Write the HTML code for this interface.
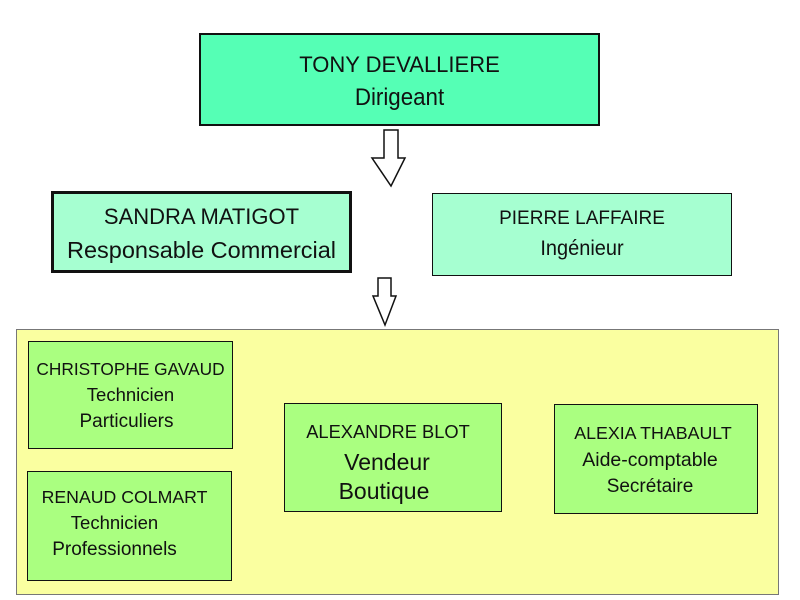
<!DOCTYPE html>
<html><head><meta charset="utf-8"><style>
body{margin:0;width:800px;height:600px;background:#fff;position:relative;overflow:hidden;font-family:"Liberation Sans",sans-serif;color:#111}
.b{position:absolute;box-sizing:border-box;border:2px solid #111}
.t{position:absolute;left:0;right:0;text-align:center;white-space:nowrap;line-height:1}
</style></head><body>
<div class="b" style="left:199px;top:33px;width:401px;height:93px;background:#55ffb5;border-width:2px">
 <div class="t" style="top:19px;font-size:22px">TONY DEVALLIERE</div>
 <div class="t" style="top:51px;font-size:24px;transform:scaleX(0.93)">Dirigeant</div>
</div>
<div class="b" style="left:51px;top:191px;width:301px;height:82px;background:#a6ffd1;border-width:3px">
 <div class="t" style="top:12px;font-size:22px">SANDRA MATIGOT</div>
 <div class="t" style="top:45px;font-size:23.5px">Responsable Commercial</div>
</div>
<div class="b" style="left:432px;top:193px;width:300px;height:83px;background:#a6ffd1;border-width:1px">
 <div class="t" style="top:15px;font-size:19px">PIERRE LAFFAIRE</div>
 <div class="t" style="top:44px;font-size:21px;transform:scaleX(0.95)">Ingénieur</div>
</div>
<svg style="position:absolute;left:0;top:0" width="800" height="600">
 <polygon points="384,130 398,130 398,158 405,158 391,186 372,158 384,158" fill="#fff" stroke="#111" stroke-width="1.5"/>
 <polygon points="378,278 391,278 391,296 396,296 385,325 373,296 378,296" fill="#fff" stroke="#111" stroke-width="1.5"/>
</svg>
<div class="b" style="left:16px;top:329px;width:763px;height:266px;background:#faffa0;border:1px solid #777"></div>
<div class="b" style="left:28px;top:341px;width:205px;height:108px;background:#aaff80;border-width:1.5px">
 <div class="t" style="top:19px;font-size:17.3px">CHRISTOPHE GAVAUD</div>
 <div class="t" style="top:44px;font-size:18.5px">Technicien</div>
 <div class="t" style="top:70px;font-size:19px;left:-8px">Particuliers</div>
</div>
<div class="b" style="left:27px;top:471px;width:205px;height:110px;background:#aaff80;border-width:1.5px">
 <div class="t" style="top:17px;font-size:17.7px;left:-10px">RENAUD COLMART</div>
 <div class="t" style="top:42px;font-size:18.5px;left:-30px">Technicien</div>
 <div class="t" style="top:68px;font-size:19px;left:-30px">Professionnels</div>
</div>
<div class="b" style="left:284px;top:403px;width:218px;height:109px;background:#aaff80;border-width:1.5px">
 <div class="t" style="top:19px;font-size:18.3px;left:-10px">ALEXANDRE BLOT</div>
 <div class="t" style="top:47px;font-size:23px;left:-12px">Vendeur</div>
 <div class="t" style="top:76px;font-size:23px;left:-18px">Boutique</div>
</div>
<div class="b" style="left:554px;top:404px;width:204px;height:110px;background:#aaff80;border-width:1.5px">
 <div class="t" style="top:20px;font-size:17.8px;left:-6px">ALEXIA THABAULT</div>
 <div class="t" style="top:46px;font-size:19.5px;left:-12px">Aide-comptable</div>
 <div class="t" style="top:72px;font-size:19px;left:-12px">Secrétaire</div>
</div>
</body></html>
